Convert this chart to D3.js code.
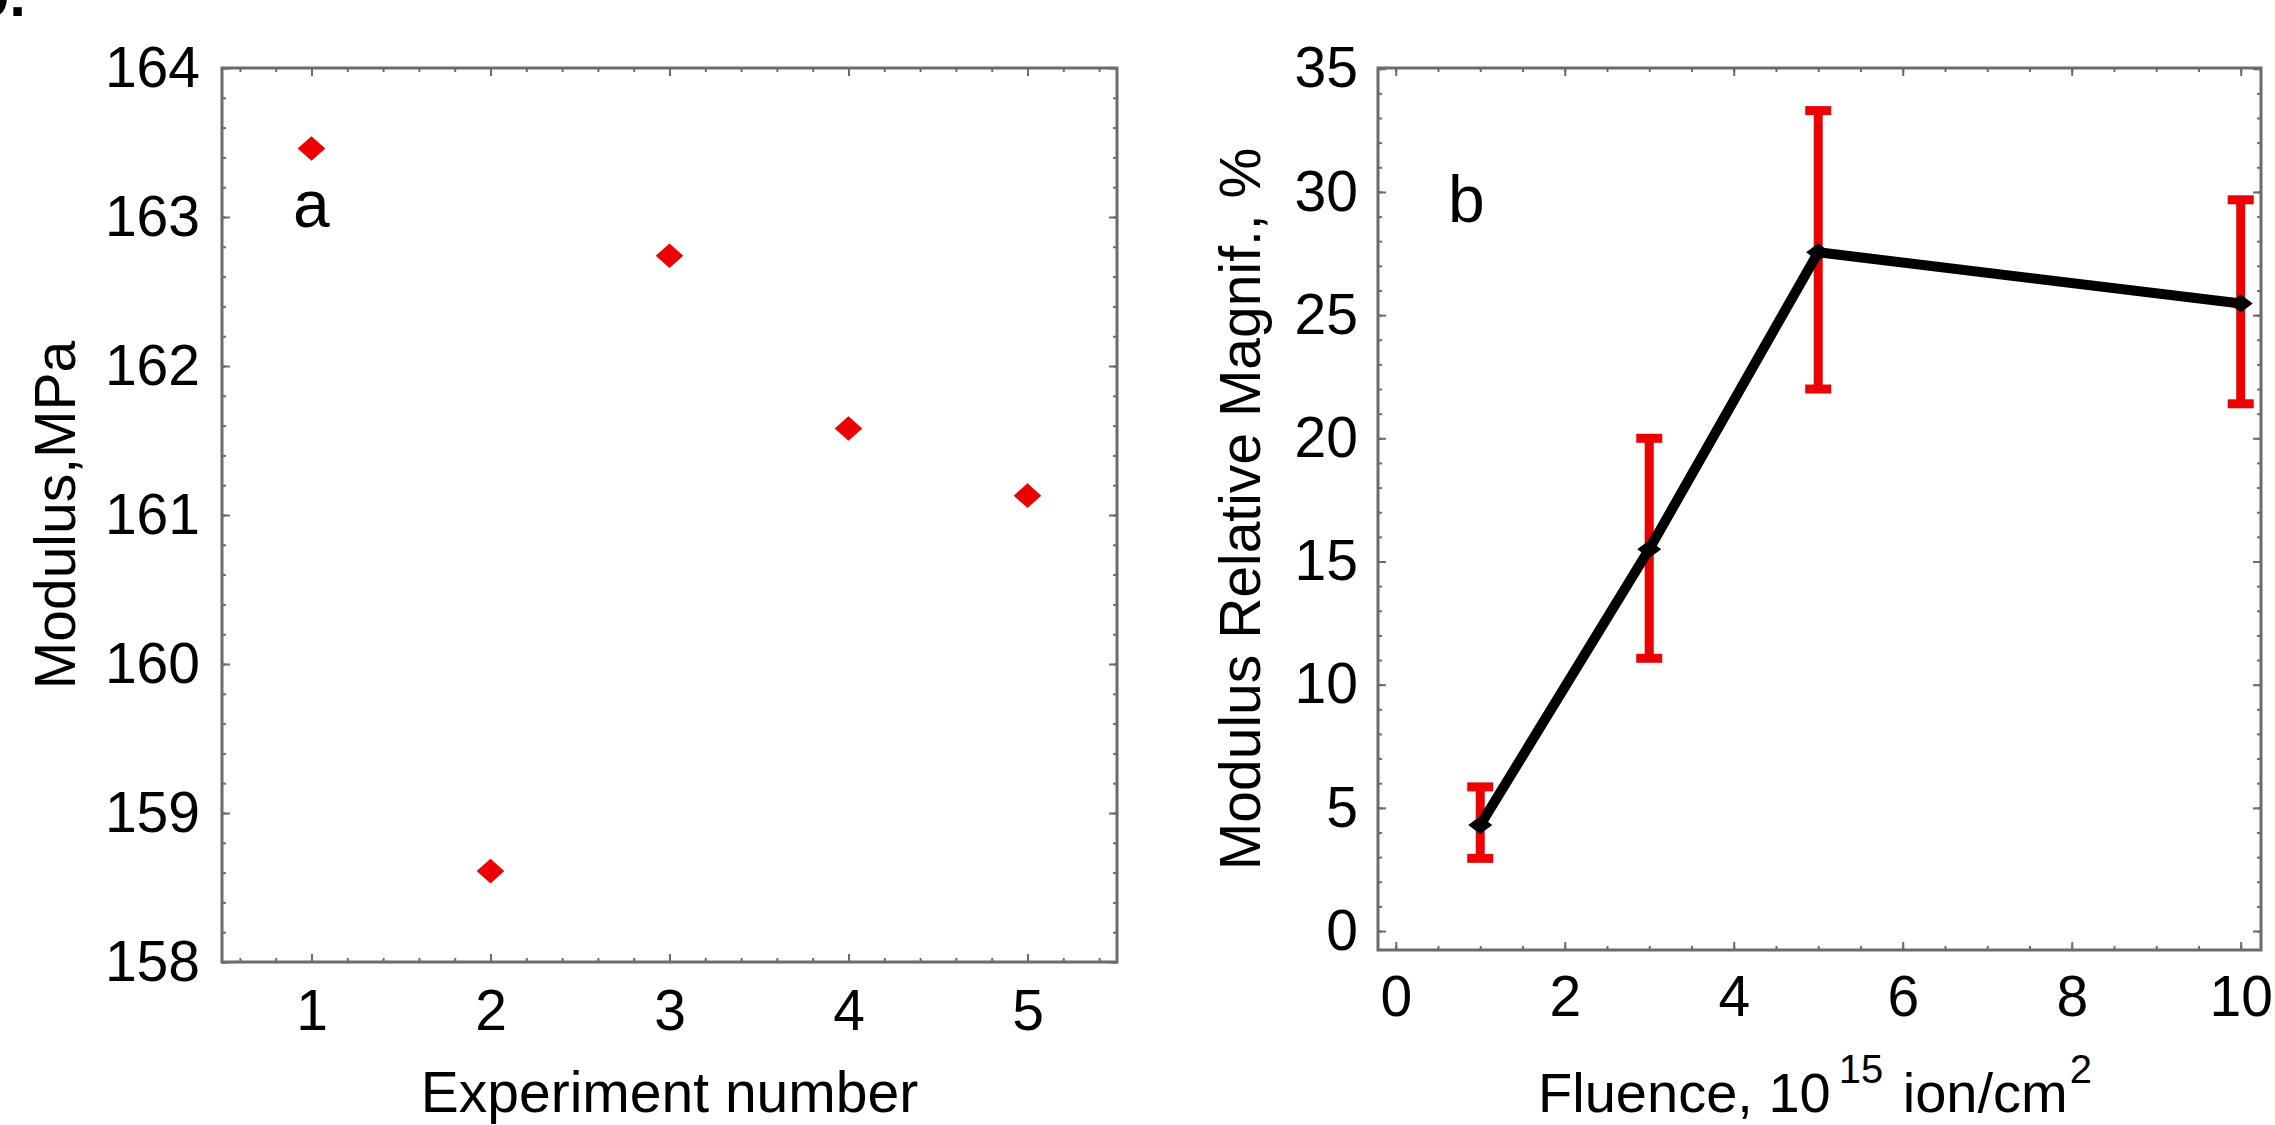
<!DOCTYPE html>
<html>
<head>
<meta charset="utf-8">
<script src="https://cdn.jsdelivr.net/npm/d3@7"></script>
<style>
  body { margin: 0; background: #fff; }
  svg { display: block; font-family: "Liberation Sans", Arial, sans-serif; }
</style>
</head>
<body>
<svg width="2275" height="1125"></svg>
<script>
// panel a: modulus per experiment
const experiments = [1, 2, 3, 4, 5];
const modulus = [163.46, 158.61, 162.74, 161.58, 161.13];
const experimentTicks = [1, 2, 3, 4, 5];
const modulusTicks = [158, 159, 160, 161, 162, 163, 164];

// panel b: relative magnification vs fluence, with error bars
const fluence = [1, 3, 5, 10];
const magnif = [4.3, 15.5, 27.55, 25.47];
const magnifLow = [2.95, 11.07, 22.0, 21.4];
const magnifHigh = [5.85, 20.0, 33.3, 29.68];
const fluenceTicks = [0, 2, 4, 6, 8, 10];
const magnifTicks = [0, 5, 10, 15, 20, 25, 30, 35];

const svg = d3.select('svg');
const frameColor = '#6b6b6b';
const fontSize = 57;

svg.append('rect').attr('width', 2275).attr('height', 1125).attr('fill', '#fff');

// minor tick values between the majors
const steps = (lo, hi, step) => d3.range(0, Math.round((hi - lo) / step) + 1).map(i => lo + i * step);

const drawAxes = (x, y, opt) => {
  const [x0, x1] = x.range();
  const [y0, y1] = y.range();
  const g = svg.append('g');

  const styleAxis = sel => {
    sel.select('.domain').remove();
    sel.selectAll('.tick line').attr('stroke', frameColor).attr('stroke-width', 2);
    sel.attr('font-size', fontSize).attr('font-family', null);
    sel.selectAll('text').attr('fill', '#000');
  };

  // labelled bottom and left
  g.append('g').attr('transform', `translate(0,${y0})`)
    .call(d3.axisBottom(x).tickValues(opt.xMajor).tickSize(-8).tickPadding(opt.padX).tickFormat(d3.format('d')))
    .call(styleAxis);
  g.append('g').attr('transform', `translate(${x0},0)`)
    .call(d3.axisLeft(y).tickValues(opt.yMajor).tickSize(-8).tickPadding(opt.padY).tickFormat(d3.format('d')))
    .call(styleAxis);

  // mirrored top and right, no labels
  g.append('g').attr('transform', `translate(0,${y1})`)
    .call(d3.axisTop(x).tickValues(opt.xMajor).tickSize(-8).tickFormat(''))
    .call(styleAxis);
  g.append('g').attr('transform', `translate(${x1},0)`)
    .call(d3.axisRight(y).tickValues(opt.yMajor).tickSize(-8).tickFormat(''))
    .call(styleAxis);

  // minor ticks on all four sides
  g.append('g').attr('transform', `translate(0,${y0})`)
    .call(d3.axisBottom(x).tickValues(opt.xMinor).tickSize(-4).tickFormat('')).call(styleAxis);
  g.append('g').attr('transform', `translate(0,${y1})`)
    .call(d3.axisTop(x).tickValues(opt.xMinor).tickSize(-4).tickFormat('')).call(styleAxis);
  g.append('g').attr('transform', `translate(${x0},0)`)
    .call(d3.axisLeft(y).tickValues(opt.yMinor).tickSize(-4).tickFormat('')).call(styleAxis);
  g.append('g').attr('transform', `translate(${x1},0)`)
    .call(d3.axisRight(y).tickValues(opt.yMinor).tickSize(-4).tickFormat('')).call(styleAxis);

  g.append('rect')
    .attr('x', x0).attr('y', y1)
    .attr('width', x1 - x0).attr('height', y0 - y1)
    .attr('fill', 'none')
    .attr('stroke', frameColor)
    .attr('stroke-width', 3);
};

// ---------- panel a ----------
const xA = d3.scaleLinear().domain([0.5, 5.5]).range([222, 1117]);
const yA = d3.scaleLinear().domain([158, 164]).range([962, 68]);

drawAxes(xA, yA, {
  xMajor: experimentTicks,
  xMinor: steps(0.6, 5.4, 0.2),
  yMajor: modulusTicks,
  yMinor: steps(158, 164, 0.2),
  padX: 28,
  padY: 22
});

const diamond = d3.symbol().type(d3.symbolSquare);

svg.append('g').selectAll('path')
  .data(experiments)
  .enter().append('path')
    .attr('d', diamond.size(380)())
    .attr('transform', (d, i) => `translate(${xA(d)},${yA(modulus[i])}) scale(1,0.89) rotate(45)`)
    .attr('fill', '#ee0000');

svg.append('text')
  .attr('x', 293).attr('y', 227)
  .attr('font-size', 66)
  .text('a');

svg.append('text')
  .attr('text-anchor', 'middle')
  .attr('x', (xA.range()[0] + xA.range()[1]) / 2)
  .attr('y', 1112)
  .attr('font-size', fontSize)
  .text('Experiment number');

svg.append('text')
  .attr('text-anchor', 'middle')
  .attr('transform', `translate(75,${(yA.range()[0] + yA.range()[1]) / 2}) rotate(-90)`)
  .attr('font-size', fontSize)
  .text('Modulus,MPa');

// ---------- panel b ----------
const xB = d3.scaleLinear().domain([-0.21, 10.24]).range([1378, 2261]);
const yB = d3.scaleLinear().domain([-0.77, 35.03]).range([950, 68]);

drawAxes(xB, yB, {
  xMajor: fluenceTicks,
  xMinor: steps(0, 10, 0.5),
  yMajor: magnifTicks,
  yMinor: steps(0, 35, 1),
  padX: 26,
  padY: 20
});

// error bars go under the line
const errG = svg.append('g')
  .attr('stroke', '#ee0000')
  .attr('stroke-width', 9)
  .attr('fill', 'none');

fluence.forEach((f, i) => {
  const cx = xB(f);
  errG.append('line')
    .attr('x1', cx).attr('x2', cx)
    .attr('y1', yB(magnifLow[i])).attr('y2', yB(magnifHigh[i]));
  [magnifLow[i], magnifHigh[i]].forEach(v => {
    errG.append('line')
      .attr('x1', cx - 13).attr('x2', cx + 13)
      .attr('y1', yB(v)).attr('y2', yB(v));
  });
});

const line = d3.line()
  .x((d, i) => xB(fluence[i]))
  .y(d => yB(d));

svg.append('path')
  .datum(magnif)
  .attr('d', line)
  .attr('fill', 'none')
  .attr('stroke', '#000')
  .attr('stroke-width', 10)
  .attr('stroke-linejoin', 'round');

svg.append('g').selectAll('path')
  .data(fluence)
  .enter().append('path')
    .attr('d', diamond.size(290)())
    .attr('transform', (d, i) => `translate(${xB(d)},${yB(magnif[i])}) scale(1,0.74) rotate(45)`)
    .attr('fill', '#000');

svg.append('text')
  .attr('x', 1448).attr('y', 222)
  .attr('font-size', 66)
  .text('b');

const fluenceLabel = svg.append('text')
  .attr('text-anchor', 'middle')
  .attr('x', 1815)
  .attr('y', 1112)
  .attr('font-size', 56);
fluenceLabel.append('tspan').text('Fluence, 10');
fluenceLabel.append('tspan').attr('font-size', 40).attr('dx', 8).attr('dy', -29).text('15');
fluenceLabel.append('tspan').attr('dx', 4).attr('dy', 29).text(' ion/cm');
fluenceLabel.append('tspan').attr('font-size', 40).attr('dx', 2).attr('dy', -29).text('2');

svg.append('text')
  .attr('text-anchor', 'middle')
  .attr('transform', `translate(1260,${(yB.range()[0] + yB.range()[1]) / 2}) rotate(-90)`)
  .attr('font-size', fontSize)
  .text('Modulus Relative Magnif., %');

// clipped figure number in the corner
svg.append('text')
  .attr('text-anchor', 'end')
  .attr('x', 26).attr('y', 16)
  .attr('font-size', 60)
  .attr('font-weight', 'bold')
  .text('9.');
</script>
</body>
</html>
